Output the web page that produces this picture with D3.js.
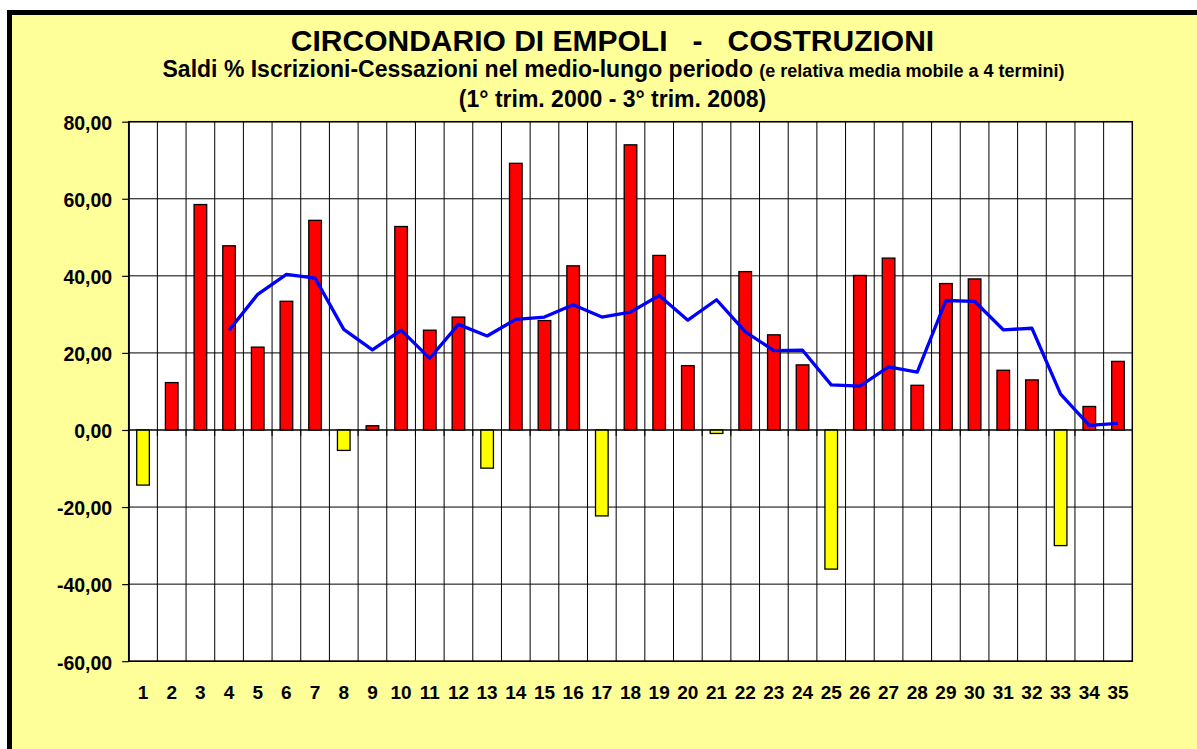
<!DOCTYPE html>
<html>
<head>
<meta charset="utf-8">
<script src="https://cdn.jsdelivr.net/npm/d3@7"></script>
<style>
  html, body { margin: 0; padding: 0; background: #fff; overflow: hidden; }
  text { font-family: "Liberation Sans", Arial, sans-serif; font-weight: bold; fill: #000; }
</style>
</head>
<body>
<div id="chart"></div>
<script>
// data
const categories = d3.range(1, 36).map(String)
const saldi = [-14.3, 12.3, 58.5, 47.8, 21.5, 33.4, 54.4, -5.3, 1.1, 52.8,
               25.9, 29.3, -9.9, 69.2, 28.4, 42.6, -22.3, 74.0, 45.3, 16.7,
               -0.9, 41.1, 24.7, 16.9, -36.1, 40.1, 44.6, 11.6, 38.0, 39.2,
               15.5, 13.0, -30.0, 6.1, 17.8]
const mediaMobile = [null, null, null, 25.9, 35.2, 40.4, 39.4, 26.1, 20.8, 25.9,
                     18.6, 27.4, 24.4, 28.7, 29.3, 32.5, 29.3, 30.6, 34.9, 28.5,
                     33.8, 25.5, 20.6, 20.7, 11.7, 11.4, 16.4, 15.0, 33.6, 33.4,
                     26.0, 26.4, 9.3, 1.2, 1.7]
const yTicks = [-60, -40, -20, 0, 20, 40, 60, 80]

const W = 1197, H = 749
const plot = { left: 128.7, right: 1132.3, top: 121.7, bottom: 661.2 }

const svg = d3.select('#chart')
    .append('svg')
        .attr('width', W)
        .attr('height', H)

// yellow panel with thick black frame (cropped on right/bottom)
svg.append('rect')
    .attr('x', 9.5).attr('y', 12.5)
    .attr('width', 1300).attr('height', 900)
    .attr('fill', '#FFFF99')
    .attr('stroke', '#000')
    .attr('stroke-width', 5)

const x = d3.scaleBand()
    .domain(categories)
    .range([plot.left, plot.right])
    .paddingInner(0.56)
    .paddingOuter(0.28)

const y = d3.scaleLinear()
    .domain([-60, 80])
    .range([plot.bottom, plot.top])

const step = x.step()
const centre = c => x(c) + x.bandwidth() / 2

// plot background
svg.append('rect')
    .attr('x', plot.left).attr('y', plot.top)
    .attr('width', plot.right - plot.left)
    .attr('height', plot.bottom - plot.top)
    .attr('fill', '#fff')

// horizontal gridlines
svg.append('g').selectAll('line')
    .data(yTicks)
    .enter().append('line')
        .attr('x1', plot.left).attr('x2', plot.right)
        .attr('y1', d => y(d)).attr('y2', d => y(d))
        .attr('stroke', '#000')
        .attr('stroke-width', 1)

// vertical gridlines between categories
svg.append('g').selectAll('line')
    .data(categories.slice(1))
    .enter().append('line')
        .attr('x1', d => centre(d) - step / 2)
        .attr('x2', d => centre(d) - step / 2)
        .attr('y1', plot.top).attr('y2', plot.bottom)
        .attr('stroke', '#000')
        .attr('stroke-width', 1)

// bars
svg.append('g').selectAll('rect')
    .data(saldi)
    .enter().append('rect')
        .attr('x', (d, i) => x(categories[i]))
        .attr('width', x.bandwidth())
        .attr('y', d => y(Math.max(0, d)))
        .attr('height', d => Math.abs(y(d) - y(0)))
        .attr('fill', d => d < 0 ? '#FFFF00' : '#FF0000')
        .attr('stroke', '#000')
        .attr('stroke-width', 1.3)

// category axis at zero with ticks between categories
svg.append('line')
    .attr('x1', plot.left).attr('x2', plot.right)
    .attr('y1', y(0)).attr('y2', y(0))
    .attr('stroke', '#000')
    .attr('stroke-width', 1)
svg.append('g').selectAll('line')
    .data(categories.slice(1))
    .enter().append('line')
        .attr('x1', d => centre(d) - step / 2)
        .attr('x2', d => centre(d) - step / 2)
        .attr('y1', y(0)).attr('y2', y(0) + 6)
        .attr('stroke', '#000')

// moving average line
const line = d3.line()
    .defined(d => d != null)
    .x((d, i) => centre(categories[i]))
    .y(d => y(d))
svg.append('path')
    .datum(mediaMobile)
    .attr('d', line)
    .attr('fill', 'none')
    .attr('stroke', '#0000FF')
    .attr('stroke-width', 3.3)
    .attr('stroke-linejoin', 'round')

// plot frame
svg.append('rect')
    .attr('x', plot.left).attr('y', plot.top)
    .attr('width', plot.right - plot.left)
    .attr('height', plot.bottom - plot.top)
    .attr('fill', 'none')
    .attr('stroke', '#000')
    .attr('stroke-width', 1.5)

// y axis, italian number format with plain hyphen minus
const it = d3.formatLocale({ decimal: ',', thousands: '.', grouping: [3], currency: ['€', ''], minus: '-' })
const yAxis = d3.axisLeft(y)
    .tickValues(yTicks)
    .tickFormat(it.format('.2f'))
    .tickSize(6.5)
    .tickSizeOuter(0)
    .tickPadding(10)
const gy = svg.append('g')
    .attr('transform', `translate(${plot.left},0)`)
    .call(yAxis)
gy.selectAll('path, line').attr('stroke', '#000').attr('stroke-width', 1.2)
gy.selectAll('text')
    .attr('font-size', 19.5)
    .attr('font-family', '"Liberation Sans", Arial, sans-serif')
    .attr('font-weight', 'bold')
    .attr('dy', '0.4em')
    .attr('fill', '#000')

// category labels along the bottom
svg.append('g').selectAll('text')
    .data(categories)
    .enter().append('text')
        .attr('x', d => centre(d))
        .attr('y', 699)
        .attr('text-anchor', 'middle')
        .attr('font-size', 19)
        .text(d => d)

// titles
svg.append('text')
    .attr('x', 612.5).attr('y', 51.3)
    .attr('text-anchor', 'middle')
    .attr('font-size', 30)
    .attr('xml:space', 'preserve')
    .style('white-space', 'pre')
    .text('CIRCONDARIO DI EMPOLI   -   COSTRUZIONI')

const sub = svg.append('text')
    .attr('x', 613.5).attr('y', 77.3)
    .attr('text-anchor', 'middle')
    .attr('xml:space', 'preserve')
    .style('white-space', 'pre')
sub.append('tspan')
    .attr('font-size', 23)
    .text('Saldi % Iscrizioni-Cessazioni nel medio-lungo periodo ')
sub.append('tspan')
    .attr('font-size', 18)
    .text('(e relativa media mobile a 4 termini)')

svg.append('text')
    .attr('x', 612.5).attr('y', 107)
    .attr('text-anchor', 'middle')
    .attr('font-size', 23)
    .text('(1° trim. 2000 - 3° trim. 2008)')
</script>
</body>
</html>
